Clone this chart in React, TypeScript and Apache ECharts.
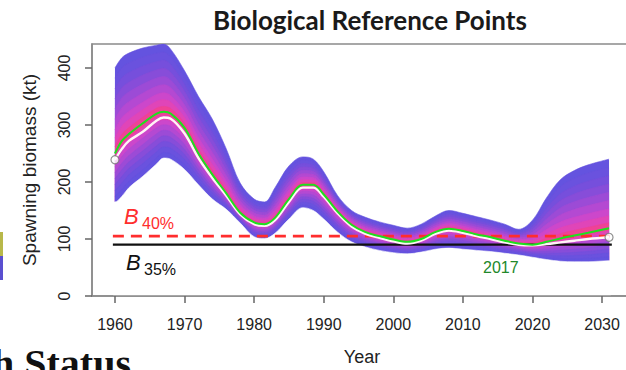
import React, { useEffect, useRef } from "react";
import * as echarts from "echarts";

// ---- Data ----
const YEARS = [1960, 1961, 1962, 1964, 1966, 1967, 1968, 1970, 1972, 1974, 1976, 1978, 1980, 1981.5, 1983, 1985, 1987, 1988.5, 1990, 1992, 1994, 1996, 1998, 2000, 2002, 2004, 2006, 2008, 2010, 2012, 2014, 2016, 2018, 2020, 2022, 2024, 2026, 2028, 2031];
const UPPER = [400, 418, 426, 435, 440, 442, 433, 395, 350, 310, 258, 198, 170, 165, 190, 228, 244, 240, 218, 176, 150, 138, 130, 124, 119, 126, 140, 150, 145, 139, 133, 126, 117, 133, 172, 204, 220, 230, 240];
const LOWER = [165, 175, 190, 210, 232, 242, 240, 222, 195, 170, 152, 128, 104, 101, 110, 135, 155, 150, 135, 112, 95, 86, 80, 76, 74, 77, 82, 84, 82, 80, 78, 75, 72, 68, 64, 61, 60, 60, 62];
const MEDIAN = [250, 272, 284, 303, 320, 323, 320, 295, 250, 213, 180, 146, 129, 126, 137, 170, 195, 195, 178, 148, 125, 112, 105, 99, 95, 100, 112, 118, 114, 108, 103, 97, 92, 90, 95, 101, 106, 111, 119];
const MLE = [239, 258, 272, 288, 308, 313, 311, 285, 242, 207, 176, 143, 126, 123, 133, 165, 190, 190, 174, 145, 122, 109, 102, 96, 92, 97, 109, 115, 111, 105, 100, 94, 90, 89, 91, 94, 97, 100, 103];
const REF_YEARS = [1959.7, 2031.4];
const B40 = 105;
const B35 = 90;
const X_TICKS = [1960, 1970, 1980, 1990, 2000, 2010, 2020, 2030];
const Y_TICKS = [0, 100, 200, 300, 400];
// fan shading: fraction of the distance from median to the envelope, outer -> inner
const FAN_LEVELS = [1, 0.88, 0.76, 0.64, 0.52, 0.4, 0.28, 0.18, 0.08];
const FAN_COLORS = ["#6453df", "#6a52de", "#764fdc", "#874dd9", "#9c4bd6", "#b449d2", "#cc47cb", "#e045b8", "#ef4296"];

const FONT = "Liberation Sans, Arial, sans-serif";

function areaUnder(points: number[][], color: string) {
  return {
    type: "line",
    data: points,
    symbol: "none",
    smooth: 0.35,
    lineStyle: { width: 0.6, color },
    areaStyle: { color, opacity: 1, origin: "start" },
    silent: true,
    z: 2,
  };
}

function buildOption() {
  const series: any[] = [];
  const his = FAN_LEVELS.map((f) => MEDIAN.map((m, i) => m + (UPPER[i] - m) * f));
  const los = FAN_LEVELS.map((f) => MEDIAN.map((m, i) => m - (m - LOWER[i]) * f));
  const pts = (vals: number[]) => YEARS.map((y, i) => [y, vals[i]]);
  // painter's order: fill under each upper boundary (outer -> inner),
  // then under each lower boundary (inner -> outer), finally white under the outer lower edge
  his.forEach((hi, k) => series.push(areaUnder(pts(hi), FAN_COLORS[k])));
  for (let k = los.length - 1; k >= 1; k--) series.push(areaUnder(pts(los[k]), FAN_COLORS[k - 1]));
  const last = YEARS.length - 1;
  const whitePts = [[YEARS[0] - 0.25, LOWER[0]], ...pts(LOWER), [YEARS[last] + 0.25, LOWER[last]]];
  series.push(areaUnder(whitePts, "#ffffff"));

  series.push({
    type: "line",
    data: REF_YEARS.map((y) => [y, B35]),
    symbol: "none",
    lineStyle: { color: "#111", width: 2.2 },
    z: 5,
  });
  series.push({
    type: "line",
    data: REF_YEARS.map((y) => [y, B40]),
    symbol: "none",
    lineStyle: { color: "#ff2d2d", width: 2.6, type: [11, 7] },
    z: 5,
  });
  series.push({
    type: "line",
    data: pts(MLE),
    symbol: "none",
    smooth: 0.35,
    lineStyle: { color: "#fff4f6", width: 2.4 },
    z: 6,
  });
  series.push({
    type: "line",
    data: pts(MEDIAN),
    symbol: "none",
    smooth: 0.35,
    lineStyle: { color: "#1ee01e", width: 2 },
    z: 7,
  });
  series.push({
    type: "scatter",
    data: [
      [YEARS[0], MLE[0]],
      [YEARS[last], MLE[last]],
    ],
    symbol: "circle",
    symbolSize: 8,
    itemStyle: { color: "#ffffff", borderColor: "#777", borderWidth: 1.2 },
    z: 8,
  });

  return {
    animation: false,
    title: {
      text: "Biological Reference Points",
      left: 365,
      top: 2,
      textAlign: "center",
      textStyle: { fontFamily: "Lato, sans-serif", fontWeight: "bold", fontSize: 26, color: "#1a1a1a" },
    },
    grid: {
      left: 92,
      top: 44,
      width: 540,
      height: 252,
      show: true,
      outerBoundsMode: "none",
      containLabel: false,
      borderColor: "#8a8a8a",
      borderWidth: 1.5,
      backgroundColor: "transparent",
    },
    xAxis: {
      type: "value",
      min: 1956.7,
      max: 2034.3,
      z: 10,
      axisLine: { show: true, lineStyle: { color: "#8a8a8a", width: 1.5 } },
      axisTick: { show: true, length: 7, customValues: X_TICKS, lineStyle: { color: "#666", width: 1.5 } },
      axisLabel: { customValues: X_TICKS, fontSize: 16, color: "#222", margin: 20, fontFamily: FONT, formatter: (v: number) => String(v) },
      splitLine: { show: false },
      name: "Year",
      nameLocation: "middle",
      nameGap: 52,
      nameTextStyle: { fontSize: 18, color: "#222", fontFamily: FONT },
    },
    yAxis: {
      type: "value",
      min: 0,
      max: 442,
      z: 10,
      axisLine: { show: true, lineStyle: { color: "#8a8a8a", width: 1.5 } },
      axisTick: { show: true, length: 7, customValues: Y_TICKS, lineStyle: { color: "#666", width: 1.5 } },
      axisLabel: { customValues: Y_TICKS, rotate: 90, fontSize: 16, color: "#222", margin: 20, fontFamily: FONT, formatter: (v: number) => String(v) },
      splitLine: { show: false },
      name: "Spawning biomass (kt)",
      nameLocation: "middle",
      nameGap: 53,
      nameRotate: 90,
      nameTextStyle: { fontSize: 19, color: "#222", fontFamily: FONT },
    },
    graphic: [
      { type: "text", left: 124, top: 205, style: { text: "B", font: "italic 22px Liberation Sans", fill: "#ff2d2d" }, z: 30 },
      { type: "text", left: 142, top: 215, style: { text: "40%", font: "16px Liberation Sans", fill: "#ff2d2d" }, z: 30 },
      { type: "text", left: 126, top: 251, style: { text: "B", font: "italic 22px Liberation Sans", fill: "#111" }, z: 30 },
      { type: "text", left: 144, top: 261, style: { text: "35%", font: "16px Liberation Sans", fill: "#111" }, z: 30 },
      { type: "text", left: 483, top: 259, style: { text: "2017", font: "16px Liberation Sans", fill: "#22882a" }, z: 30 },
      { type: "text", left: -8, top: 343, style: { text: "h Status", font: "bold 40px Liberation Serif", fill: "#111" }, z: 30 },
      { type: "rect", shape: { x: 0, y: 232, width: 3, height: 24 }, style: { fill: "#b8b84a" } },
      { type: "rect", shape: { x: 0, y: 256, width: 3, height: 24 }, style: { fill: "#5a4fd0" } },
    ],
    series,
  };
}

export default function App() {
  const ref = useRef<HTMLDivElement>(null);
  useEffect(() => {
    if (!ref.current) return;
    const chart = echarts.init(ref.current, undefined, { renderer: "svg" });
    chart.setOption(buildOption() as any);
    return () => chart.dispose();
  }, []);
  return (
    <div
      ref={ref}
      style={{ position: "absolute", left: 0, top: 0, width: 626, height: 370, background: "#fff" }}
    />
  );
}
